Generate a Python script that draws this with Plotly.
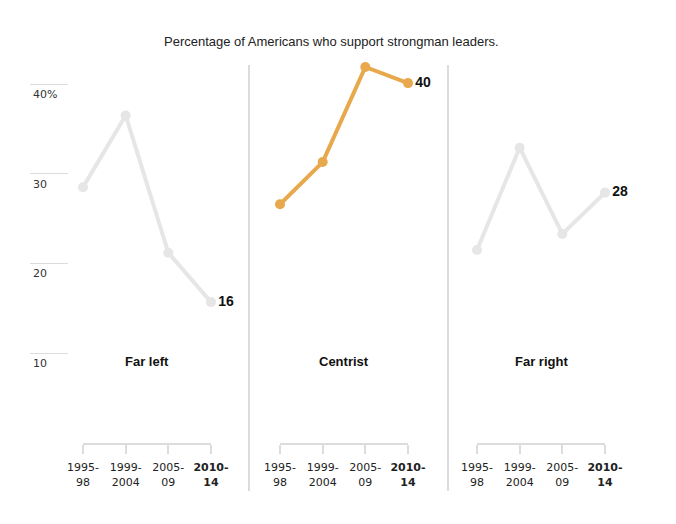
import plotly.graph_objects as go

# page body adds an 8px margin, so the figure is drawn 8px in and sized to fit
OFF = 8
W, H = 676 - 2 * OFF, 524 - 2 * OFF

periods = ["1995-<br>98", "1999-<br>2004", "2005-<br>09", "<b>2010-<br>14</b>"]
x_idx = [0, 1, 2, 3]

groups = ["Far left", "Centrist", "Far right"]
far_left = [28.5, 36.5, 21.2, 15.7]
centrist = [26.6, 31.3, 41.9, 40.1]
far_right = [21.5, 32.9, 23.3, 27.9]
end_labels = ["16", "40", "28"]

y_ticks = [10, 20, 30, 40]
y_tick_text = ["10", "20", "30", "40%"]

GREY = "#e6e6e6"
ORANGE = "#e8a84c"
AXIS = "#dcdcdc"
FONT = "Verdana, DejaVu Sans, sans-serif"
HEAD = "Liberation Sans, Arial, sans-serif"


# window pixel -> paper coords
def px(x):
    return (x - OFF) / W


def py(y):
    return (H - (y - OFF)) / H


Y0, PX_PER_UNIT = 443, 8.975
Y_TOP = 45
y_dom = [py(Y0), py(Y0 - Y_TOP * PX_PER_UNIT)]

series = [far_left, centrist, far_right]
colors = [GREY, ORANGE, GREY]
panel_px = [(83, 211), (280, 408), (477, 605)]

fig = go.Figure()

for i, (vals, col, lab) in enumerate(zip(series, colors, end_labels)):
    xa = "x" if i == 0 else f"x{i + 1}"
    fig.add_trace(go.Scatter(
        x=x_idx, y=vals, xaxis=xa, yaxis="y",
        mode="lines+markers+text",
        line=dict(color=col, width=4),
        marker=dict(color=col, size=10),
        text=["", "", "", "<b>" + lab + "</b>"],
        textposition="middle right",
        textfont=dict(size=14, color="#111", family=HEAD),
        cliponaxis=False, hoverinfo="skip", showlegend=False,
    ))

# invisible trace carrying the short y gridlines at the far left
fig.add_trace(go.Scatter(x=[0, 1], y=[0, 0], xaxis="x4", yaxis="y2",
                         mode="lines", line=dict(width=0), showlegend=False,
                         hoverinfo="skip"))

layout = dict(
    width=W, height=H,
    margin=dict(l=0, r=0, t=0, b=0),
    paper_bgcolor="white", plot_bgcolor="rgba(0,0,0,0)",
    font=dict(family=FONT, size=11, color="#333"),
    yaxis=dict(domain=y_dom, range=[0, Y_TOP], visible=False,
               fixedrange=True, automargin=False),
    yaxis2=dict(domain=y_dom, range=[0, Y_TOP], anchor="x4",
                tickvals=y_ticks, ticktext=y_tick_text,
                showgrid=True, gridcolor=AXIS, gridwidth=1,
                ticklabelposition="inside", ticklabelshift=10,
                ticklabelstandoff=0, automargin=False,
                tickfont=dict(size=11, color="#333", family=FONT),
                zeroline=False, showline=False, ticks=""),
    xaxis4=dict(domain=[px(30), px(68)], range=[0, 1], visible=False,
                anchor="y2", automargin=False),
    showlegend=False,
)

for i, (x0, x1) in enumerate(panel_px):
    key = "xaxis" if i == 0 else f"xaxis{i + 1}"
    layout[key] = dict(
        domain=[px(x0), px(x1)], range=[0, 3], anchor="y",
        tickvals=x_idx, ticktext=periods, automargin=False,
        ticks="outside", ticklen=9, tickcolor=AXIS, tickwidth=2,
        ticklabelstandoff=4,
        showline=True, linecolor=AXIS, linewidth=2,
        showgrid=False, zeroline=False,
        tickfont=dict(size=11, color="#222", family=FONT),
    )

fig.update_layout(**layout)

for i, g in enumerate(groups):
    xa = "x" if i == 0 else f"x{i + 1}"
    fig.add_annotation(text="<b>" + g + "</b>", xref=xa + " domain", yref="paper",
                       x=0.5, y=py(361), yanchor="middle", showarrow=False,
                       font=dict(size=13, color="#111", family=HEAD))

fig.add_annotation(text="Percentage of Americans who support strongman leaders.",
                   xref="paper", yref="paper", x=px(331), y=py(41),
                   xanchor="center", yanchor="middle", showarrow=False,
                   font=dict(size=13, color="#222", family=HEAD))

for xs in (249, 448):
    fig.add_shape(type="line", xref="paper", yref="paper",
                  x0=px(xs), x1=px(xs), y0=py(65), y1=py(491),
                  line=dict(color=AXIS, width=2))

fig.write_html("out.html")
